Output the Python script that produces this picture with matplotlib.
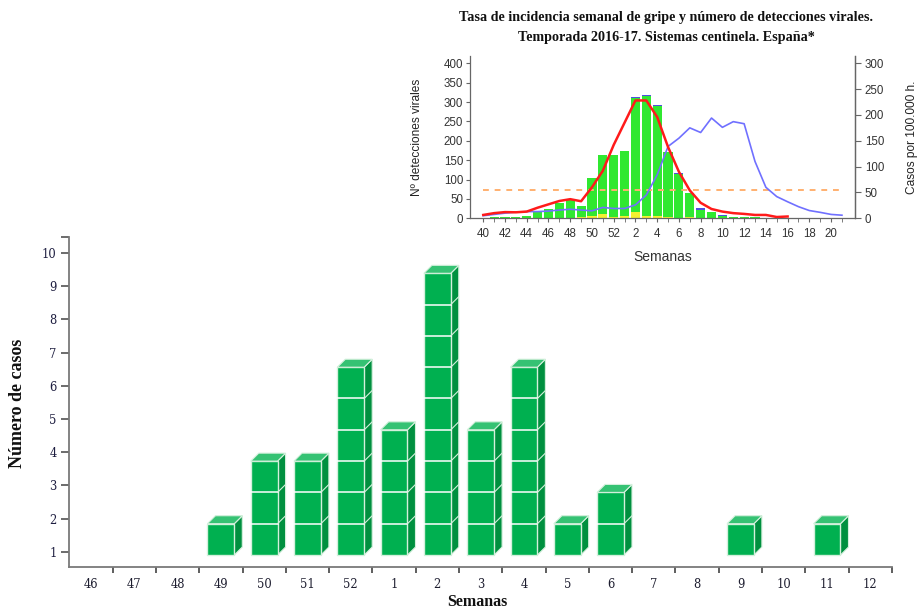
import matplotlib
matplotlib.use('Agg')
import matplotlib.pyplot as plt
from matplotlib.patches import Polygon
from matplotlib.ticker import FixedLocator
import numpy as np

# ---------------- main chart data ----------------
semanas = ['46', '47', '48', '49', '50', '51', '52', '1', '2', '3', '4',
           '5', '6', '7', '8', '9', '10', '11', '12']
casos = [0, 0, 0, 1, 3, 3, 6, 4, 9, 4, 6, 1, 2, 0, 0, 1, 0, 1, 0]
y_ticks_main = [1, 2, 3, 4, 5, 6, 7, 8, 9, 10]

# ---------------- inset chart data ----------------
sem_inset = ['40', '41', '42', '43', '44', '45', '46', '47', '48', '49', '50',
             '51', '52', '1', '2', '3', '4', '5', '6', '7', '8', '9', '10',
             '11', '12', '13', '14', '15', '16', '17', '18', '19', '20', '21']
det_total = [2, 3, 4, 3, 5, 15, 23, 40, 47, 31, 105, 164, 163, 174, 313, 319,
             292, 171, 118, 65, 26, 16, 8, 4, 4, 3, 2, 1, 2, 0, 0, 0, 0, 0]
det_amarillo = [0, 0, 0, 0, 0, 0, 0, 0, 0, 4, 6, 10, 4, 6, 17, 5,
                5, 3, 2, 3, 1, 0, 0, 0, 0, 0, 0, 0, 0, 0, 0, 0, 0, 0]
det_azul = [0, 0, 0, 0, 0, 0, 0, 0, 0, 0, 0, 0, 0, 0, 3, 4,
            3, 0, 4, 0, 4, 0, 1, 1, 1, 0, 0, 0, 2, 0, 0, 0, 0, 0]
det_morado = [2, 0, 0, 0, 0, 0, 0, 0, 0, 0, 0, 0, 0, 0, 0, 0,
              0, 0, 0, 0, 0, 0, 0, 0, 0, 0, 0, 0, 0, 0, 0, 0, 0, 0]
tasa_2016_17 = [6.5, 10, 12, 11.6, 13, 20.5, 27, 33.5, 37, 33, 60, 92, 142,
                185, 228, 228, 196, 138, 90, 54, 30, 18, 13, 10, 8.5, 6.5,
                6.5, 2.5, 3.5]
tasa_previa = [5, 7.5, 10, 12, 13, 13, 14, 16, 17.5, 16, 14.5, 21, 19, 19,
               26, 45, 84, 139, 155, 175, 166, 194, 176, 187, 183, 110, 60,
               42, 32, 22.5, 15, 11.5, 7.5, 6]
umbral = 55

W, H = 919, 612
fig = plt.figure(figsize=(W / 100, H / 100), dpi=100)

# ================= main axes =================
ax = fig.add_axes([69.3 / W, (H - 567.3) / H, (892 - 69.3) / W, (567.3 - 237) / H])
ax.set_xlim(0, len(semanas))
ax.set_ylim(0.53, 10.48)

base = 0.9
h = 0.943
bw = 0.62
dx, dy = 0.185, 0.24
face_c = '#00b050'
top_c = '#35c273'
side_c = '#00903f'
edge_c = '#d4f0dc'

xc = np.arange(len(semanas)) + 0.5
for x, n in zip(xc, casos):
    if n <= 0:
        continue
    top = base + n * h
    ax.bar(x, n * h, bottom=base, width=bw, color=face_c, edgecolor=edge_c,
           linewidth=1.0, zorder=3)
    xr = x + bw / 2
    xl = x - bw / 2
    ax.add_patch(Polygon([(xr, base), (xr + dx, base + dy), (xr + dx, top + dy), (xr, top)],
                         closed=True, facecolor=side_c, edgecolor=edge_c, linewidth=0.8, zorder=2))
    ax.add_patch(Polygon([(xl, top), (xl + dx, top + dy), (xr + dx, top + dy), (xr, top)],
                         closed=True, facecolor=top_c, edgecolor=edge_c, linewidth=0.8, zorder=3))
    for k in range(1, n):
        yk = base + k * h
        ax.plot([xl, xr], [yk, yk], color='white', lw=1.1, zorder=4)
        ax.plot([xr, xr + dx], [yk, yk + dy], color=edge_c, lw=0.8, zorder=4)

for s in ['top', 'right']:
    ax.spines[s].set_visible(False)
for s in ['left', 'bottom']:
    ax.spines[s].set_color('#7a7a7a')
    ax.spines[s].set_linewidth(1.3)

ax.set_xticks(xc)
ax.set_xticklabels(semanas, fontfamily='DejaVu Serif', fontsize=8.3, color='#1e1e30')
ax.xaxis.set_minor_locator(FixedLocator(np.arange(1, len(semanas) + 1)))
ax.tick_params(axis='x', which='major', length=0, pad=8)
ax.tick_params(axis='x', which='minor', length=4, width=1.1, color='#333333', direction='out')

ax.set_yticks(y_ticks_main)
ax.set_yticklabels([str(v) for v in y_ticks_main], fontfamily='DejaVu Serif',
                   fontsize=8.3, color='#1e1e40')
ax.yaxis.set_minor_locator(FixedLocator([10.48]))
ax.tick_params(axis='y', which='both', length=6, width=1.1, color='#444444',
               direction='out', pad=3)

fig.text(18 / W, 1 - 403 / H, 'Número de casos', rotation=90, ha='center', va='center',
         fontfamily='Liberation Serif', fontweight='bold', fontsize=13, color='#111111')
fig.text(477 / W, 1 - 602 / H, 'Semanas', ha='center', va='center',
         fontfamily='Liberation Serif', fontweight='bold', fontsize=11.5, color='#111111')

# ================= inset axes =================
axi = fig.add_axes([470 / W, (H - 218.3) / H, (855 - 470) / W, (218.3 - 55.5) / H])
axi.patch.set_alpha(0)
xi = np.arange(len(sem_inset))
tot = np.array(det_total, float)
yel = np.array(det_amarillo, float)
blu = np.array(det_azul, float)
pur = np.array(det_morado, float)
grn = np.clip(tot - yel - blu - pur, 0, None)
bwi = 0.84
axi.bar(xi, pur, width=bwi, color='#d040c8', linewidth=0)
axi.bar(xi, yel, bottom=pur, width=bwi, color='#f4f030', linewidth=0)
axi.bar(xi, grn, bottom=pur + yel, width=bwi, color='#30e830', linewidth=0)
axi.bar(xi, blu, bottom=pur + yel + grn, width=bwi, color='#5050e0', linewidth=0)
axi.set_xlim(-1.22, 34.2)
axi.set_ylim(0, 420)
axi.set_yticks(np.arange(0, 401, 50))
axi.set_xticks(xi[::2])
axi.set_xticklabels(sem_inset[::2])
axi.xaxis.set_minor_locator(FixedLocator(xi))
for s in ['top']:
    axi.spines[s].set_visible(False)
for s in ['left', 'bottom', 'right']:
    axi.spines[s].set_color('#666666')
    axi.spines[s].set_linewidth(0.9)
axi.tick_params(axis='both', which='both', labelsize=8.3, labelcolor='#333333',
                color='#666666', length=3, direction='out', pad=2)
axi.tick_params(axis='x', which='major', pad=4)
for lab in axi.get_xticklabels() + axi.get_yticklabels():
    lab.set_fontfamily('Liberation Sans')

axr = axi.twinx()
axr.set_ylim(0, 315)
axr.set_yticks(np.arange(0, 301, 50))
axr.spines['top'].set_visible(False)
axr.spines['right'].set_color('#666666')
axr.spines['right'].set_linewidth(0.9)
axr.spines['left'].set_visible(False)
axr.spines['bottom'].set_visible(False)
axr.tick_params(axis='y', labelsize=8.3, labelcolor='#333333', color='#666666',
                length=4, direction='out', pad=3)
for lab in axr.get_yticklabels():
    lab.set_fontfamily('Liberation Sans')
axr.plot([xi[0], xi[-1]], [umbral, umbral], color='#ffb070', lw=1.4, ls=(0, (3, 3)))
axr.plot(xi[:len(tasa_previa)], tasa_previa, color='#7070ff', lw=1.2)
axr.plot(xi[:len(tasa_2016_17)], tasa_2016_17, color='#ff1a1a', lw=1.8)

fig.text(417 / W, 1 - 137 / H, 'Nº detecciones virales', rotation=90, ha='center',
         va='center', fontfamily='Liberation Sans', fontsize=8.6, color='#222222')
fig.text(912 / W, 1 - 137 / H, 'Casos por 100.000 h.', rotation=90, ha='center',
         va='center', fontfamily='Liberation Sans', fontsize=8.6, color='#222222')
fig.text(663 / W, 1 - 257 / H, 'Semanas', ha='center', va='center',
         fontfamily='Liberation Sans', fontsize=10, color='#333333')

fig.text(666 / W, 1 - 17 / H,
         'Tasa de incidencia semanal de gripe y número de detecciones virales.',
         ha='center', va='center', fontfamily='Liberation Serif', fontweight='bold',
         fontsize=10.2, color='#111111')
fig.text(666 / W, 1 - 38 / H, 'Temporada 2016-17. Sistemas centinela. España*',
         ha='center', va='center', fontfamily='Liberation Serif', fontweight='bold',
         fontsize=10.2, color='#111111')

fig.savefig('out.png', dpi=100)
